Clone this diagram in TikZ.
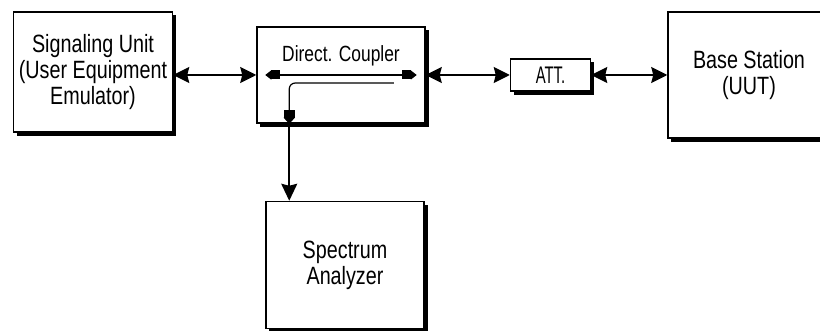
\documentclass[tikz,border=0pt]{standalone}
\usepackage{fontspec}
\setmainfont[FakeStretch=0.79]{Liberation Sans}
\newfontfamily\attfont[FakeStretch=0.62]{Liberation Sans}
\usetikzlibrary{matrix, arrows.meta, shadows}

\begin{document}
\begin{tikzpicture} [
  unit/.style = {draw, fill=white, line width=1.5pt, inner sep=0pt, align=center, anchor=center,
                 font=\fontsize{25}{26}\selectfont,
                 drop shadow={shadow xshift=3.5pt, shadow yshift=-3.5pt, fill=black, opacity=1}},
  link/.style = {line width=1.6pt,
                 {Stealth[length=16pt, width=16pt, inset=2pt]}-{Stealth[length=16pt, width=16pt, inset=2pt]}},
  feed/.style = {line width=1.6pt, -{Stealth[length=17pt, width=16pt, inset=2pt]}},
  cline/.style = {line width=1.2pt, rounded corners=6pt}
]
\useasboundingbox (0,0) rectangle (820pt,-331pt);
\matrix (m) [at={(341pt,-75pt)}, anchor=dc.center, column sep=84pt, row sep=62pt]{
\node[unit, minimum width=159pt, minimum height=120pt, yshift=3pt](su){Signaling Unit\\(User Equipment\\Emulator)}; &[-1pt]
\node[unit, minimum width=168pt, minimum height=96pt, font=\fontsize{22}{24}\selectfont,
      text height=16pt, text depth=42pt](dc){Direct. Coupler}; &
\node[unit, minimum width=80pt, minimum height=32pt, font=\attfont\fontsize{24}{26}\selectfont](att){ATT.}; &[-8pt]
\node[unit, minimum width=162pt, minimum height=126pt](bs){Base Station\\(UUT)}; \\
& \node[unit, minimum width=158pt, minimum height=127pt, xshift=4pt](sa){Spectrum\\Analyzer}; & & \\
};
% outside links
\draw[link] (dc.west -| su.east) -- (dc.west);
\draw[link] (dc.east) -- (att.west);
\draw[link] (att.east) -- (bs.west);
% inside the coupler
\draw[cline, {Triangle[length=6pt, width=9pt] Rectangle[length=9pt, width=9pt]}-{Rectangle[length=9pt, width=9pt] Triangle[length=6pt, width=9pt]}]
  ([xshift=9pt]dc.west) -- ([xshift=-9pt]dc.east);
\coordinate (tap) at ([xshift=33pt]dc.south west);
\draw[cline, -{Rectangle[length=8pt, width=11pt] Triangle[length=6pt, width=11pt]}]
  ([xshift=-32pt, yshift=-8pt]dc.east) -| (tap);
\draw[feed] (tap) -- (tap |- sa.north);
\end{tikzpicture}
\end{document}
